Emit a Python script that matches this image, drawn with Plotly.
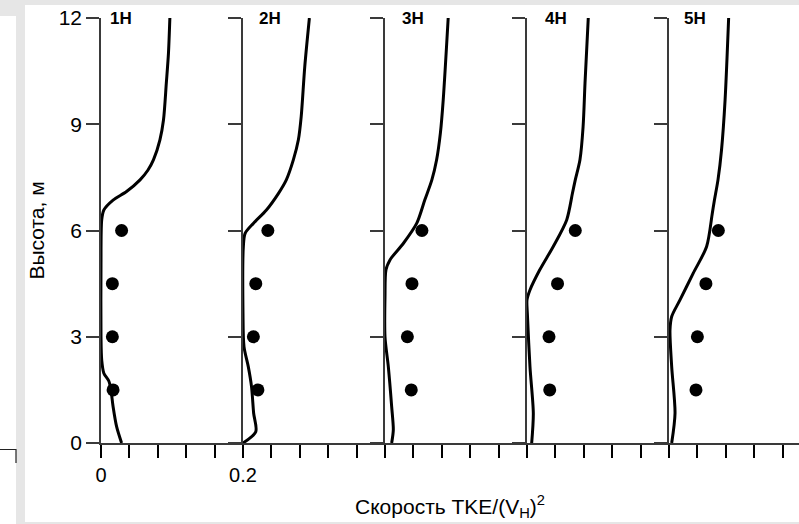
import plotly.graph_objects as go

# ---------------- data ----------------
PANEL_NAMES = ["1Н", "2Н", "3Н", "4Н", "5Н"]
PANEL_OFFSET = [0.0, 0.2, 0.4, 0.6, 0.8]
PANEL_WIDTH = 0.2

# model profiles (local x value, height)
P1_Y = [0, 0.46, 1.03, 1.5, 1.75, 1.97, 2.34, 3.0, 5.0, 6.3, 6.58, 6.86, 7.1, 7.43, 7.7, 8.0, 8.56, 9.12, 10.16, 11.0, 12.0]
P1_X = [0.029, 0.022, 0.017, 0.014, 0.011, 0.004, 0.001, 0.0, 0.0, 0.001, 0.004, 0.017, 0.036, 0.055, 0.066, 0.074, 0.083, 0.088, 0.092, 0.095, 0.097]

P2_Y = [0, 0.32, 0.84, 1.59, 2.15, 2.72, 3.66, 5.55, 5.92, 6.2, 6.58, 7.05, 7.43, 8.0, 8.56, 9.22, 10.63, 12.0]
P2_X = [0.0, 0.018, 0.015, 0.012, 0.0075, 0.0014, 0.0, 0.0005, 0.003, 0.0145, 0.033, 0.050, 0.061, 0.071, 0.078, 0.082, 0.087, 0.0935]

P3_Y = [0, 0.37, 1.03, 2.15, 3.0, 4.13, 4.89, 5.17, 5.64, 6.2, 6.86, 7.43, 8.0, 8.75, 9.69, 12.0]
P3_X = [0.0094, 0.0117, 0.0094, 0.0047, 0.0, 0.0, 0.0014, 0.007, 0.026, 0.0446, 0.056, 0.066, 0.0727, 0.078, 0.082, 0.089]

P4_Y = [0, 0.84, 2.15, 3.66, 4.04, 4.32, 4.89, 5.55, 6.3, 7.05, 7.43, 8.0, 8.93, 10.16, 12.0]
P4_X = [0.0066, 0.0089, 0.0042, 0.0005, 0.0, 0.0042, 0.018, 0.037, 0.0559, 0.064, 0.068, 0.0746, 0.079, 0.0817, 0.0863]

P5_Y = [0, 0.84, 2.15, 3.19, 3.57, 4.04, 4.79, 5.55, 6.49, 6.86, 7.43, 8.28, 9.69, 12.0]
P5_X = [0.0038, 0.0085, 0.0038, 0.0014, 0.0038, 0.0155, 0.034, 0.053, 0.061, 0.064, 0.069, 0.074, 0.079, 0.084]

# measured points
DOT_Y = [6, 4.5, 3, 1.5]
D1_X = [0.029, 0.016, 0.016, 0.017]
D2_X = [0.035, 0.018, 0.0146, 0.021]
D3_X = [0.052, 0.038, 0.0315, 0.037]
D4_X = [0.068, 0.043, 0.031, 0.032]
D5_X = [0.0695, 0.052, 0.040, 0.038]

Y_TICKS = [0, 3, 6, 9, 12]
X_LABELS = ["0", "0.2", None, None, None]   # label at each panel origin
X_MINOR_STEP = 0.04

CURVES_X = [P1_X, P2_X, P3_X, P4_X, P5_X]
CURVES_Y = [P1_Y, P2_Y, P3_Y, P4_Y, P5_Y]
DOTS_X = [D1_X, D2_X, D3_X, D4_X, D5_X]

# ---------------- layout constants ----------------
W, H = 799, 524
ML, MR, MT, MB = 101, 0, 18, 81
PW, PH = W - ML - MR, H - MT - MB
PX_PER_UNIT = 710.0
X_MAX = PW / PX_PER_UNIT
FONT = "Liberation Sans, Arial, sans-serif"
AX_COLOR = "#3a3a3a"
XTICK_COLOR = "black"
FRAME_GRAY = "#e6e6e6"
LABEL_SHIFT = [7, 14, 15, 16, 13]
TICK_LEN = 13


def px_x(px):
    return (px - ML) / PW


def px_y(py):
    return (H - MB - py) / PH


fig = go.Figure()

for i in range(5):
    xr = "x" if i == 0 else f"x{i + 1}"
    yr = "y" if i == 0 else f"y{i + 1}"
    off = PANEL_OFFSET[i]
    fig.add_trace(go.Scatter(
        x=[v + off for v in CURVES_X[i]], y=CURVES_Y[i], mode="lines",
        line=dict(color="black", width=3, shape="spline", smoothing=0.8),
        xaxis=xr, yaxis=yr, showlegend=False, hoverinfo="skip"))
    fig.add_trace(go.Scatter(
        x=[v + off for v in DOTS_X[i]], y=DOT_Y, mode="markers",
        marker=dict(color="black", size=13), xaxis=xr, yaxis=yr,
        showlegend=False, hoverinfo="skip"))

layout = dict(
    width=W, height=H,
    margin=dict(l=ML, r=MR, t=MT, b=MB, pad=0),
    paper_bgcolor="white", plot_bgcolor="white",
    font=dict(family=FONT, color="black", size=20),
)

for i in range(5):
    off = PANEL_OFFSET[i]
    x_hi = min(off + PANEL_WIDTH, X_MAX)
    xkey = "xaxis" if i == 0 else f"xaxis{i + 1}"
    ykey = "yaxis" if i == 0 else f"yaxis{i + 1}"
    xname = "x" if i == 0 else f"x{i + 1}"
    yname = "y" if i == 0 else f"y{i + 1}"
    tv = []
    j = 0
    while off + j * X_MINOR_STEP < x_hi - 1e-9:
        tv.append(round(off + j * X_MINOR_STEP, 4))
        j += 1
    tt = [(X_LABELS[i] if (k == 0 and X_LABELS[i]) else " ") for k in range(len(tv))]
    xa = dict(
        domain=[off / X_MAX, min(x_hi / X_MAX, 1.0)], range=[off, x_hi], anchor=yname,
        showgrid=False, zeroline=False,
        showline=True, linecolor=AX_COLOR, linewidth=1.5,
        ticks="outside", ticklen=TICK_LEN, tickwidth=2, tickcolor=XTICK_COLOR,
        tickmode="array", tickvals=tv, ticktext=tt, showticklabels=True,
        tickfont=dict(size=20, family=FONT),
    )
    layout[xkey] = xa

    ya = dict(
        domain=[0, 1], range=[0, 12], anchor=xname,
        showgrid=False, zeroline=False,
        showline=True, linecolor=AX_COLOR, linewidth=1.5,
        ticks="outside", ticklen=TICK_LEN, tickwidth=1.5, tickcolor=AX_COLOR,
        tickvals=Y_TICKS,
    )
    if i == 0:
        ya.update(showticklabels=True, tickfont=dict(size=21, family=FONT),
                  title=dict(text="Высота, м", font=dict(size=21, family=FONT), standoff=8))
    else:
        ya.update(showticklabels=False)
    layout[ykey] = ya

fig.update_layout(**layout)

# grey frame of the scanned page (only in the border strips)
for (a, b, c, d) in [(0, 0, W, 5), (0, 0, 16, 16), (16, 0, 25, H), (25, 522, W, H)]:
    fig.add_shape(type="rect", xref="paper", yref="paper",
                  x0=px_x(a), x1=px_x(c), y0=px_y(d), y1=px_y(b),
                  fillcolor=FRAME_GRAY, line=dict(width=0), layer="below")
fig.add_shape(type="path", xref="paper", yref="paper",
              path=f"M {px_x(0)} {px_y(449.5)} L {px_x(16)} {px_y(449.5)} L {px_x(16)} {px_y(463)}",
              line=dict(color="#222222", width=1.2))

for i in range(5):
    xr = "x" if i == 0 else f"x{i + 1}"
    yr = "y" if i == 0 else f"y{i + 1}"
    fig.add_annotation(
        x=PANEL_OFFSET[i], y=12, xref=xr, yref=yr,
        text=f"<b>{PANEL_NAMES[i]}</b>", showarrow=False,
        xanchor="left", yanchor="middle", xshift=LABEL_SHIFT[i],
        font=dict(size=17, family=FONT, color="black"))

# common x-axis title
fig.add_annotation(
    x=0.5, y=px_y(506), xref="paper", yref="paper",
    text="Скорость TKE/(V<sub>Н</sub>)<sup>2</sup>", showarrow=False,
    xanchor="center", yanchor="middle",
    font=dict(size=21, family=FONT, color="black"))

fig.write_html("out.html")
